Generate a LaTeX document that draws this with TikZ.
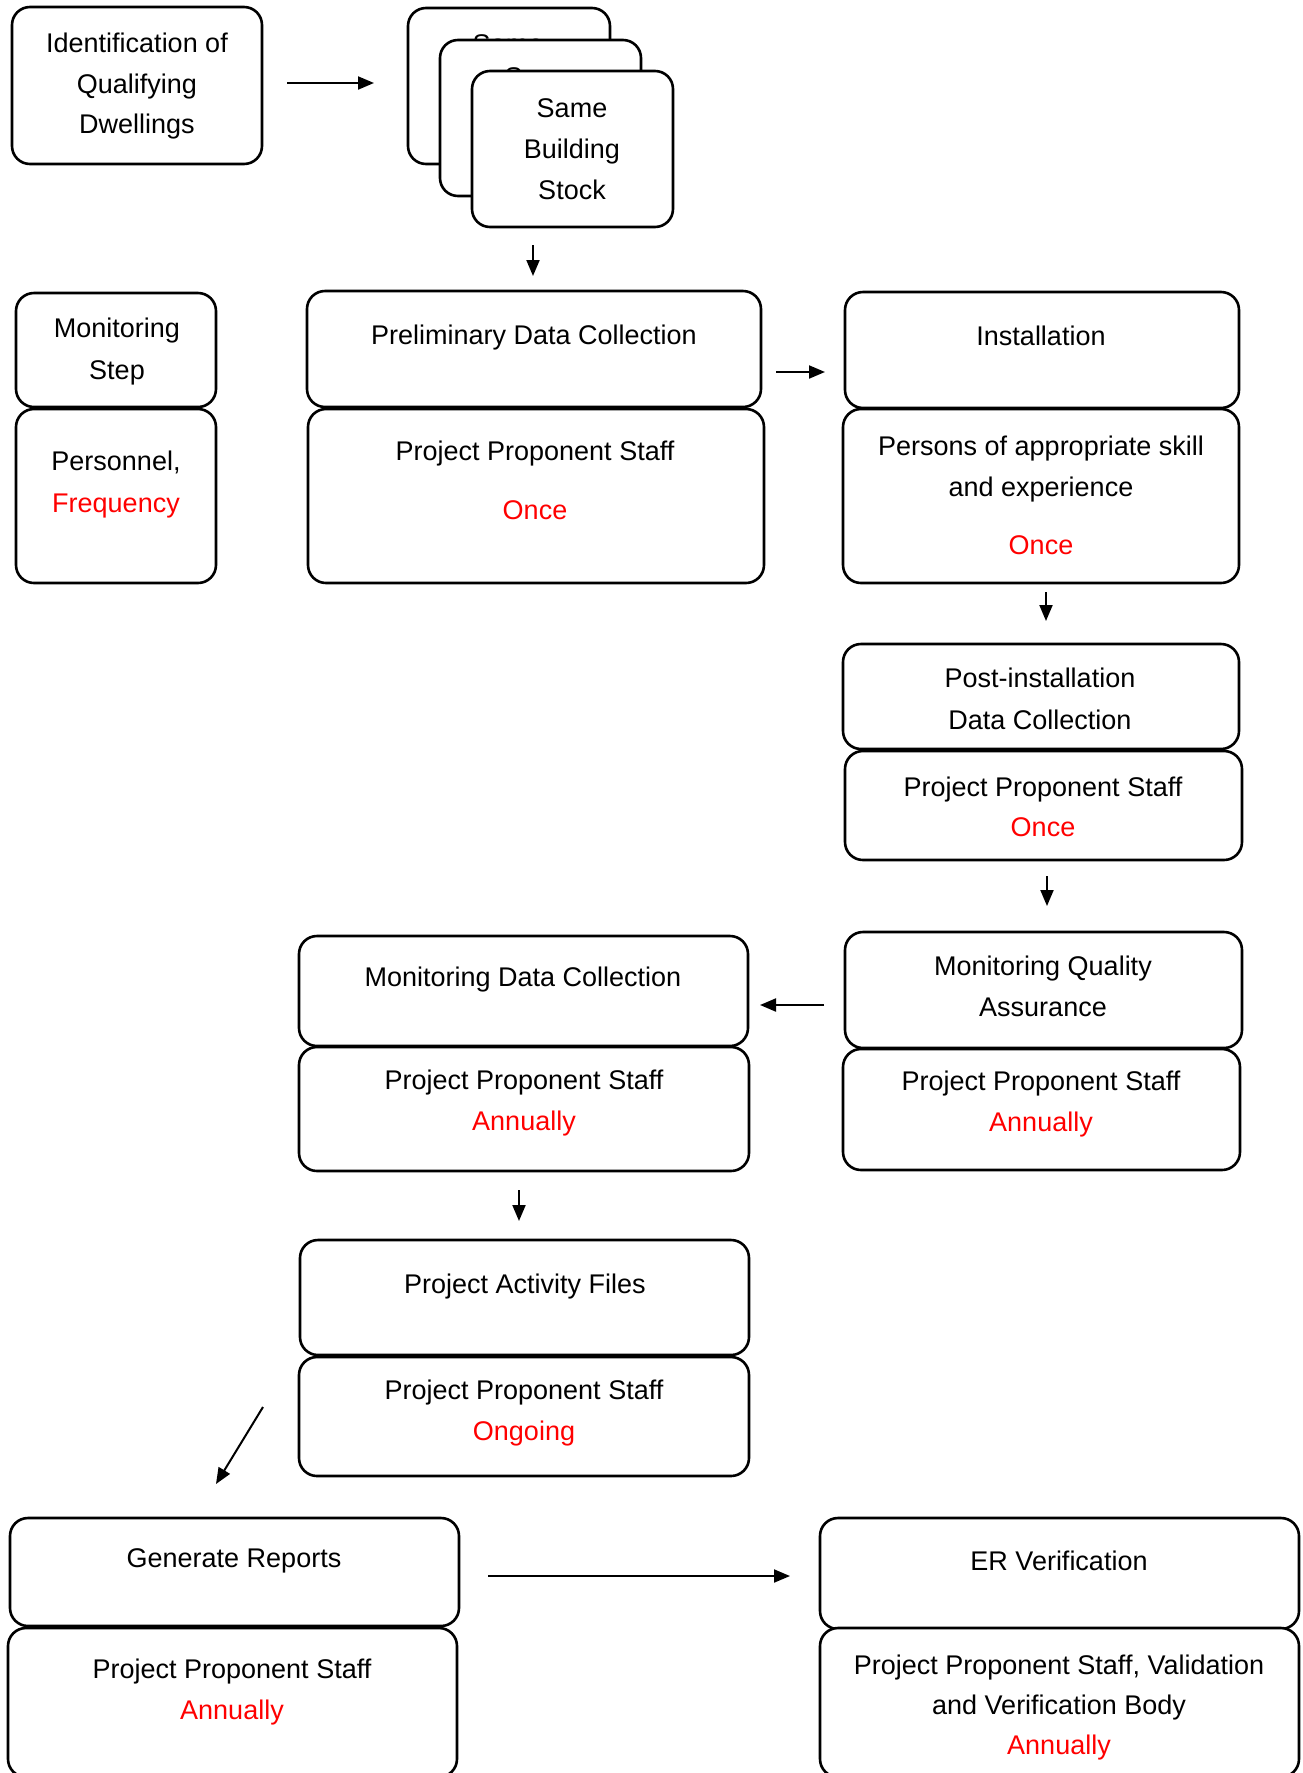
\documentclass[tikz,border=0pt]{standalone}
\usepackage{fontspec}
\setmainfont{Liberation Sans}
\usetikzlibrary{arrows.meta}
\definecolor{freqred}{RGB}{255,0,0}
\tikzset{
  box/.style={draw=black, line width=2.6pt, rounded corners=18pt, fill=white, inner sep=0pt, outer sep=0pt},
  txt/.style={anchor=base, inner sep=0pt, outer sep=0pt, yshift=-2pt, font=\fontsize{27}{32}\selectfont},
  frq/.style={txt, text=freqred},
  arr/.style={line width=2pt, -{Triangle[length=16pt,width=13pt]}}
}
% \bx{name}{x1}{y1}{x2}{y2}
\newcommand\bx[5]{\node[box, minimum width={(#4)-(#2)}, minimum height={(#5)-(#3)}] (#1) at ({((#2)+(#4))/2},{((#3)+(#5))/2}) {};}
\begin{document}
\begin{tikzpicture}[x=1pt,y=-1pt]
\useasboundingbox (0,0) rectangle (1302,1773);
\fill[white] (0,0) rectangle (1302,1773);

% identification
\bx{ident}{12}{7}{262}{164}
\node[txt] (ident1) at (137,50) {Identification of};
\node[txt] (ident2) at (137,91) {Qualifying};
\node[txt] (ident3) at (137,131) {Dwellings};

% stacked boxes
\bx{stackA}{408}{8}{610}{164}
\node[txt] (sa1) at (508,51) {Same};
\bx{stackB}{440}{40}{641}{196}
\node[txt] (sb1) at (540,84) {Same};
\bx{stackC}{472}{71}{673}{227}
\node[txt] (sc1) at (572,115) {Same};
\node[txt] (sc2) at (572,156) {Building};
\node[txt] (sc3) at (572,197) {Stock};

% legend
\bx{mstep}{16}{293}{216}{407}
\node[txt] (ms1) at (117,335) {Monitoring};
\node[txt] (ms2) at (117,377) {Step};
\bx{mpers}{16}{409}{216}{583}
\node[txt] (mp1) at (116,468) {Personnel,};
\node[frq] (mp2) at (116,510) {Frequency};

% preliminary
\bx{prelim}{307}{291}{761}{407}
\node[txt] (pr1) at (534,342) {Preliminary Data Collection};
\bx{prelimS}{308}{409}{764}{583}
\node[txt] (prs1) at (535,458) {Project Proponent Staff};
\node[frq] (prs2) at (535,517) {Once};

% installation
\bx{inst}{845}{292}{1239}{408}
\node[txt] (in1) at (1041,343) {Installation};
\bx{instS}{843}{409}{1239}{583}
\node[txt] (ins1) at (1041,453) {Persons of appropriate skill};
\node[txt] (ins2) at (1041,494) {and experience};
\node[frq] (ins3) at (1041,552) {Once};

% post-installation
\bx{post}{843}{644}{1239}{749}
\node[txt] (po1) at (1040,685) {Post-installation};
\node[txt] (po2) at (1040,727) {Data Collection};
\bx{postS}{845}{751}{1242}{860}
\node[txt] (pos1) at (1043,794) {Project Proponent Staff};
\node[frq] (pos2) at (1043,834) {Once};

% monitoring quality assurance
\bx{mqa}{845}{932}{1242}{1048}
\node[txt] (mq1) at (1043,973) {Monitoring Quality};
\node[txt] (mq2) at (1043,1014) {Assurance};
\bx{mqaS}{843}{1049}{1240}{1170}
\node[txt] (mqs1) at (1041,1088) {Project Proponent Staff};
\node[frq] (mqs2) at (1041,1129) {Annually};

% monitoring data collection
\bx{mdc}{299}{936}{748}{1046}
\node[txt] (md1) at (523,984) {Monitoring Data Collection};
\bx{mdcS}{299}{1047}{749}{1171}
\node[txt] (mds1) at (524,1087) {Project Proponent Staff};
\node[frq] (mds2) at (524,1128) {Annually};

% project activity files
\bx{paf}{300}{1240}{749}{1355}
\node[txt] (pa1) at (525,1291) {Project Activity Files};
\bx{pafS}{299}{1357}{749}{1476}
\node[txt] (pas1) at (524,1397) {Project Proponent Staff};
\node[frq] (pas2) at (524,1438) {Ongoing};

% generate reports
\bx{gen}{10}{1518}{459}{1626}
\node[txt] (ge1) at (234,1565) {Generate Reports};
\bx{genS}{8}{1628}{457}{1777}
\node[txt] (ges1) at (232,1676) {Project Proponent Staff};
\node[frq] (ges2) at (232,1717) {Annually};

% ER verification
\bx{er}{820}{1518}{1299}{1629}
\node[txt] (er1) at (1059,1568) {ER Verification};
\bx{erS}{820}{1628}{1299}{1777}
\node[txt] (ers1) at (1059,1672) {Project Proponent Staff, Validation};
\node[txt] (ers2) at (1059,1712) {and Verification Body};
\node[frq] (ers3) at (1059,1752) {Annually};

% arrows
\coordinate (a1s) at (287,83);   \coordinate (a1e) at (374,83);
\coordinate (a2s) at (533,245);  \coordinate (a2e) at (533,276);
\coordinate (a3s) at (776,372);  \coordinate (a3e) at (825,372);
\coordinate (a4s) at (1046,592); \coordinate (a4e) at (1046,621);
\coordinate (a5s) at (1047,876); \coordinate (a5e) at (1047,906);
\coordinate (a6s) at (824,1005); \coordinate (a6e) at (760,1005);
\coordinate (a7s) at (519,1190); \coordinate (a7e) at (519,1221);
\coordinate (a8s) at (263,1407); \coordinate (a8e) at (216,1484);
\coordinate (a9s) at (488,1576); \coordinate (a9e) at (790,1576);
\draw[arr] (a1s) -- (a1e);
\draw[arr] (a2s) -- (a2e);
\draw[arr] (a3s) -- (a3e);
\draw[arr] (a4s) -- (a4e);
\draw[arr] (a5s) -- (a5e);
\draw[arr] (a6s) -- (a6e);
\draw[arr] (a7s) -- (a7e);
\draw[arr] (a8s) -- (a8e);
\draw[arr] (a9s) -- (a9e);
\end{tikzpicture}
\end{document}
